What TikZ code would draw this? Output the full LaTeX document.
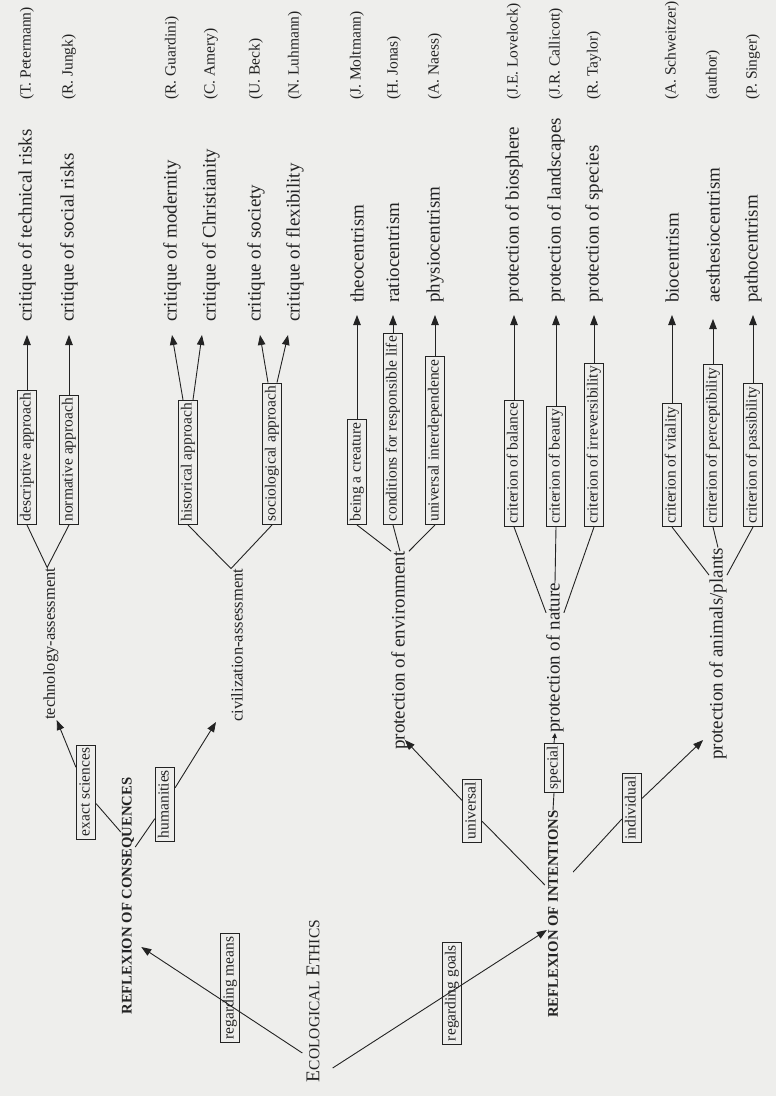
\documentclass[tikz,border=0pt]{standalone}
\usepackage{fontspec}
\setmainfont{Liberation Serif}
\usetikzlibrary{arrows.meta,calc}
\definecolor{paper}{RGB}{238,238,236}
\definecolor{ink}{RGB}{35,35,35}
\begin{document}
\begin{tikzpicture}[x=1pt,y=-1pt,
 term/.style={rotate=90,anchor=west,inner sep=0pt,text=ink,font=\fontsize{19}{19}\selectfont},
 auth/.style={rotate=90,anchor=west,inner sep=0pt,text=ink,font=\fontsize{15.5}{16}\selectfont},
 lvl/.style={rotate=90,anchor=west,inner sep=0pt,text=ink},
 lbl/.style={rotate=90,draw=ink,fill=paper,line width=0.8pt,inner xsep=3pt,inner ysep=2.7pt,text height=10.6pt,text depth=3.4pt,text=ink,font=\fontsize{15.5}{15.5}\selectfont},
 crit/.style={lbl,anchor=west},
 obox/.style={lbl,fill=none},
 ttl/.style={rotate=90,inner sep=0pt,text=ink,font=\bfseries\fontsize{14.7}{15}\selectfont},
 link/.style={draw=ink,line width=0.9pt},
 arr/.style={link,-{Triangle[length=10pt,width=7.5pt]}},
 sarr/.style={link,-{Triangle[length=5pt,width=4.5pt]}}
]
\path[fill=paper,use as bounding box] (0,0) rectangle (776,1096);

% authors
\node[auth] (n1) at (27,100) {(T. Petermann)};
\node[auth] (n2) at (69,100) {(R. Jungk)};
\node[auth] (n3) at (172,100) {(R. Guardini)};
\node[auth] (n4) at (211,100) {(C. Amery)};
\node[auth] (n5) at (256,100) {(U. Beck)};
\node[auth] (n6) at (295,100) {(N. Luhmann)};
\node[auth] (n7) at (357,100) {(J. Moltmann)};
\node[auth] (n8) at (394,100) {(H. Jonas)};
\node[auth] (n9) at (435,100) {(A. Naess)};
\node[auth] (n10) at (514,100) {(J.E. Lovelock)};
\node[auth] (n11) at (556,100) {(J.R. Callicott)};
\node[auth] (n12) at (594,100) {(R. Taylor)};
\node[auth] (n13) at (672,100) {(A. Schweitzer)};
\node[auth] (n14) at (713,100) {(author)};
\node[auth] (n15) at (753,100) {(P. Singer)};

% terms
\node[term] (t1) at (27,322) {critique of technical risks};
\node[term] (t2) at (69,322) {critique of social risks};
\node[term] (t3) at (172,322) {critique of modernity};
\node[term] (t4) at (211,322) {critique of Christianity};
\node[term] (t5) at (256,322) {critique of society};
\node[term] (t6) at (295,322) {critique of flexibility};
\node[term] (t7) at (357,303) {theocentrism};
\node[term] (t8) at (393,303) {ratiocentrism};
\node[term] (t9) at (435,303) {physiocentrism};
\node[term] (t10) at (514,303) {protection of biosphere};
\node[term] (t11) at (556,303) {protection of landscapes};
\node[term] (t12) at (594,303) {protection of species};
\node[term] (t13) at (672,303) {biocentrism};
\node[term] (t14) at (713,303) {aesthesiocentrism};
\node[term] (t15) at (753,303) {pathocentrism};

% criteria boxes
\node[crit] (b1) at (27,525) {descriptive approach};
\node[crit] (b2) at (69,525) {normative approach};
\node[crit] (b3) at (188,525) {historical approach};
\node[crit] (b4) at (272,525) {sociological approach};
\node[crit] (b7) at (357,525) {being a creature};
\node[crit] (b8) at (393,525) {conditions for responsible life};
\node[crit] (b9) at (435,525) {universal interdependence};
\node[crit] (b10) at (514,527) {criterion of balance};
\node[crit] (b11) at (556,527) {criterion of beauty};
\node[crit] (b12) at (594,527) {criterion of irreversibility};
\node[crit] (b13) at (672,527) {criterion of vitality};
\node[crit] (b14) at (713,527) {criterion of perceptibility};
\node[crit] (b15) at (753,527) {criterion of passibility};

% second level
\node[lvl,font=\fontsize{16.5}{17}\selectfont] (tech) at (51,720) {technology-assessment};
\node[lvl,font=\fontsize{16.5}{17}\selectfont] (civ) at (237,722) {civilization-assessment};
\node[lvl,font=\fontsize{19}{19}\selectfont] (env) at (400,750) {protection of environment};
\node[lvl,font=\fontsize{19}{19}\selectfont] (nat) at (555,733) {protection of nature};
\node[lvl,font=\fontsize{19}{19}\selectfont] (ani) at (718,760) {protection of animals/plants};

% first level boxes
\node[lbl] (ex) at (86,792) {exact sciences};
\node[lbl] (hu) at (165,804) {humanities};
\node[obox] (rm) at (230,988) {regarding means};
\node[obox] (rg) at (452,993) {regarding goals};
\node[lbl] (un) at (472,811) {universal};
\node[lbl] (sp) at (554,768) {special};
\node[lbl] (in) at (632,808) {individual};

% titles
\node[ttl] (rc) at (128,896) {REFLEXION OF CONSEQUENCES};
\node[ttl] (ri) at (553,914) {REFLEXION OF INTENTIONS};
\node[rotate=90,inner sep=0pt,text=ink] (eco) at (313,1001)
 {\fontsize{19.5}{20}\selectfont E\fontsize{15.5}{16}\selectfont COLOGICAL \fontsize{19.5}{20}\selectfont E\fontsize{15.5}{16}\selectfont THICS};

% arrows to terms
\draw[arr] (b1.east) -- ($(t1.west)+(0,13)$);
\draw[arr] (b2.east) -- ($(t2.west)+(0,13)$);
\draw[arr] ($(b3.east)+(-5,0)$) -- ($(t3.west)+(0,13)$);
\draw[arr] ($(b3.east)+(5,0)$) -- ($(t4.west)+(-9,13)$);
\draw[arr] ($(b4.east)+(-4,0)$) -- ($(t5.west)+(4,13)$);
\draw[arr] ($(b4.east)+(5,0)$) -- ($(t6.west)+(-7,13)$);
\draw[arr] (b7.east) -- ($(t7.west)+(0,12)$);
\draw[arr] (b8.east) -- ($(t8.west)+(0,12)$);
\draw[arr] (b9.east) -- ($(t9.west)+(0,12)$);
\draw[arr] (b10.east) -- ($(t10.west)+(0,12)$);
\draw[arr] (b11.east) -- ($(t11.west)+(0,12)$);
\draw[arr] (b12.east) -- ($(t12.west)+(0,12)$);
\draw[arr] (b13.east) -- ($(t13.west)+(0,12)$);
\draw[arr] (b14.east) -- ($(t14.west)+(0,16)$);
\draw[arr] (b15.east) -- ($(t15.west)+(0,12)$);

% fans
\draw[link] (b1.west) -- ($(tech.east)!0.5!(tech.north east)$) -- (b2.west);
\draw[link] (b3.west) -- (civ.north east) -- (b4.west);
\draw[link] (env.north east) -- (b7.west);
\draw[link] (env.east) -- (b8.west);
\draw[link] (env.south east) -- (b9.west);
\draw[link] ($(nat.north east)!0.2!(nat.north west)$) -- (b10.west);
\draw[link] (nat.east) -- (b11.west);
\draw[link] ($(nat.south east)!0.2!(nat.south west)$) -- (b12.west);
\draw[link] ($(ani.north east)!0.13!(ani.north west)$) -- (b13.west);
\draw[link] (ani.east) -- (b14.west);
\draw[link] ($(ani.south east)!0.13!(ani.south west)$) -- (b15.west);

% consequences branch
\draw[link] ($(rc.north)+(-1,-64)$) -- (ex);
\draw[arr] (ex) -- ($(tech.south west)+(-2,0)$);
\draw[link] ($(rc.south)+(1,-49)$) -- (hu);
\draw[arr] (hu) -- ($(civ.north west)+(-15,0)$);

% intentions branch
\draw[link] ($(ri.north)+(-3,-29)$) -- (un);
\draw[arr] (un) -- ($(env.south west)+(-4,-10)$);
\draw[link] (ri.east) -- (sp.west);
\draw[sarr] (sp.east) -- (nat.west);
\draw[link] ($(ri.south)+(15,-42)$) -- (in);
\draw[arr] (in) -- ($(ani.north west)+(-6,-20)$);

% root
\draw[arr] ($(eco.north)+(-4,52)$) -- ($(rc.south)+(7,51)$);
\draw[arr] ($(eco.south)+(13,67)$) -- ($(ri.north)+(-1,16)$);
\end{tikzpicture}
\end{document}
